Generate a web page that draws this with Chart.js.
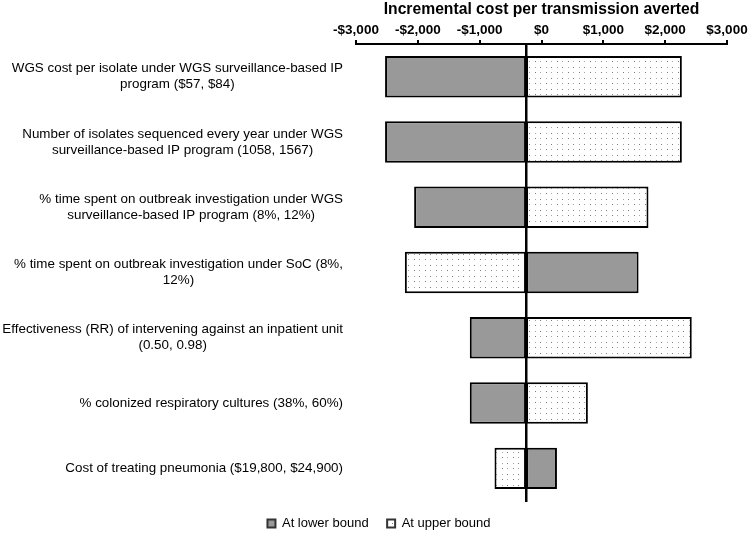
<!DOCTYPE html>
<html lang="en">
<head>
    <meta charset="UTF-8">
    <title>Incremental cost per transmission averted</title>
    <script src="https://cdn.jsdelivr.net/npm/chart.js@4.4.0/dist/chart.umd.min.js"></script>
    <style>
        html, body { margin: 0; padding: 0; background: #fff; }
        #wrap { width: 750px; height: 533px; position: relative; }
    </style>
</head>
<body>
    <div id="wrap"><canvas id="tornado"></canvas></div>

    <script>
        // parameters (one per row, multi-line labels)
        const labels = [
            ['WGS cost per isolate under WGS surveillance-based IP', 'program ($57, $84)'],
            ['Number of isolates sequenced every year under WGS', 'surveillance-based IP program (1058, 1567)'],
            ['% time spent on outbreak investigation under WGS', 'surveillance-based IP program (8%, 12%)'],
            ['% time spent on outbreak investigation under SoC (8%,', '12%)'],
            ['Effectiveness (RR) of intervening against an inpatient unit', '(0.50, 0.98)'],
            ['% colonized respiratory cultures (38%, 60%)'],
            ['Cost of treating pneumonia ($19,800, $24,900)']
        ];
        // base case ICER and values at each bound
        const baseValue = -250;
        const lowerBound = [-2530, -2530, -2060, 1570, -1160, -1160, 250];
        const upperBound = [2270, 2270, 1730, -2210, 2430, 750, -760];
        const xTicks = [-3000, -2000, -1000, 0, 1000, 2000, 3000];

        const FONT = '"Liberation Sans", Arial, sans-serif';

        // dotted fill for the upper bound bars
        function dotPattern() {
            const c = document.createElement('canvas');
            c.width = 11; c.height = 11;
            const g = c.getContext('2d');
            g.fillStyle = '#ffffff';
            g.fillRect(0, 0, 11, 11);
            g.fillStyle = '#7a7a7a';
            g.fillRect(1, 1, 1, 1);
            g.fillRect(7, 6, 1, 1);
            g.fillStyle = '#a5a5a5';
            g.fillRect(7, 1, 1, 1);
            g.fillRect(1, 6, 1, 1);
            return g.createPattern(c, 'repeat');
        }

        const money = v => (v < 0 ? '-$' : '$') + Math.abs(v).toLocaleString('en-US');

        // draws the row labels: each label centred on itself, blocks right-aligned
        const rowLabels = {
            id: 'rowLabels',
            afterDraw(chart) {
                const ctx = chart.ctx;
                const y = chart.scales.y;
                const right = 343;
                const lh = 16;
                ctx.save();
                ctx.font = '13.4px ' + FONT;
                ctx.fillStyle = '#000';
                ctx.textAlign = 'center';
                ctx.textBaseline = 'middle';
                labels.forEach((lines, i) => {
                    const w = Math.max(...lines.map(l => ctx.measureText(l).width));
                    const cx = right - w / 2;
                    const cy = y.getPixelForValue(i);
                    lines.forEach((l, j) => {
                        ctx.fillText(l, cx, cy + (j - (lines.length - 1) / 2) * lh);
                    });
                });
                ctx.restore();
            }
        };

        const ctx = document.getElementById('tornado').getContext('2d');
        new Chart(ctx, {
            type: 'bar',
            data: {
                labels: labels.map(l => l.join(' ')),
                datasets: [
                    {
                        label: 'At lower bound',
                        data: lowerBound.map(v => [baseValue, v]),
                        backgroundColor: '#999999',
                        borderColor: '#000',
                        borderWidth: 2,
                        borderSkipped: false,
                        grouped: false
                    },
                    {
                        label: 'At upper bound',
                        data: upperBound.map(v => [baseValue, v]),
                        backgroundColor: dotPattern(),
                        borderColor: '#000',
                        borderWidth: 2,
                        borderSkipped: false,
                        grouped: false
                    }
                ]
            },
            options: {
                indexAxis: 'y',
                responsive: true,
                maintainAspectRatio: false,
                animation: false,
                barPercentage: 0.635,
                categoryPercentage: 1,
                layout: { padding: { left: 31, right: 23, top: 0, bottom: -7 } },
                plugins: {
                    legend: {
                        position: 'bottom',
                        labels: {
                            font: { family: FONT, size: 13 },
                            color: '#000',
                            boxWidth: 8,
                            boxHeight: 8,
                            padding: 4,
                            generateLabels: chart => {
                                const items = Chart.defaults.plugins.legend.labels.generateLabels(chart);
                                items.forEach(it => { it.strokeStyle = '#333'; });
                                // wider gap between the two entries
                                items[0].text += '\u00a0\u00a0\u00a0\u00a0';
                                return items;
                            }
                        }
                    },
                    tooltip: { enabled: false }
                },
                scales: {
                    x: {
                        position: 'top',
                        min: -3000,
                        max: 3000,
                        afterBuildTicks: axis => { axis.ticks = xTicks.map(v => ({ value: v })); },
                        ticks: {
                            callback: v => money(v),
                            font: { family: FONT, size: 13.5, weight: 'bold' },
                            color: '#000',
                            padding: 2,
                            maxRotation: 0
                        },
                        grid: { drawOnChartArea: false, drawTicks: true, tickLength: 4, color: '#000', lineWidth: 2 },
                        border: { display: true, color: '#000', width: 2 },
                        title: {
                            display: true,
                            text: 'Incremental cost per transmission averted',
                            font: { family: FONT, size: 15.7, weight: 'bold' },
                            color: '#000',
                            padding: { top: 0, bottom: 1 }
                        }
                    },
                    y: {
                        position: { x: baseValue },
                        offset: true,
                        ticks: { display: false },
                        grid: { display: false, drawTicks: false },
                        border: { display: true, color: '#000', width: 2.5 }
                    },
                    // empty axes that only reserve room (row labels, space above legend)
                    labelSpace: {
                        type: 'category',
                        axis: 'y',
                        position: 'left',
                        ticks: { display: false },
                        grid: { display: false, drawTicks: false },
                        border: { display: false },
                        afterFit: s => { s.width = 325; }
                    },
                    legendGap: {
                        type: 'linear',
                        axis: 'x',
                        position: 'bottom',
                        ticks: { display: false },
                        grid: { display: false, drawTicks: false },
                        border: { display: false },
                        afterFit: s => { s.height = 12; }
                    }
                }
            },
            plugins: [rowLabels]
        });
    </script>
</body>
</html>
